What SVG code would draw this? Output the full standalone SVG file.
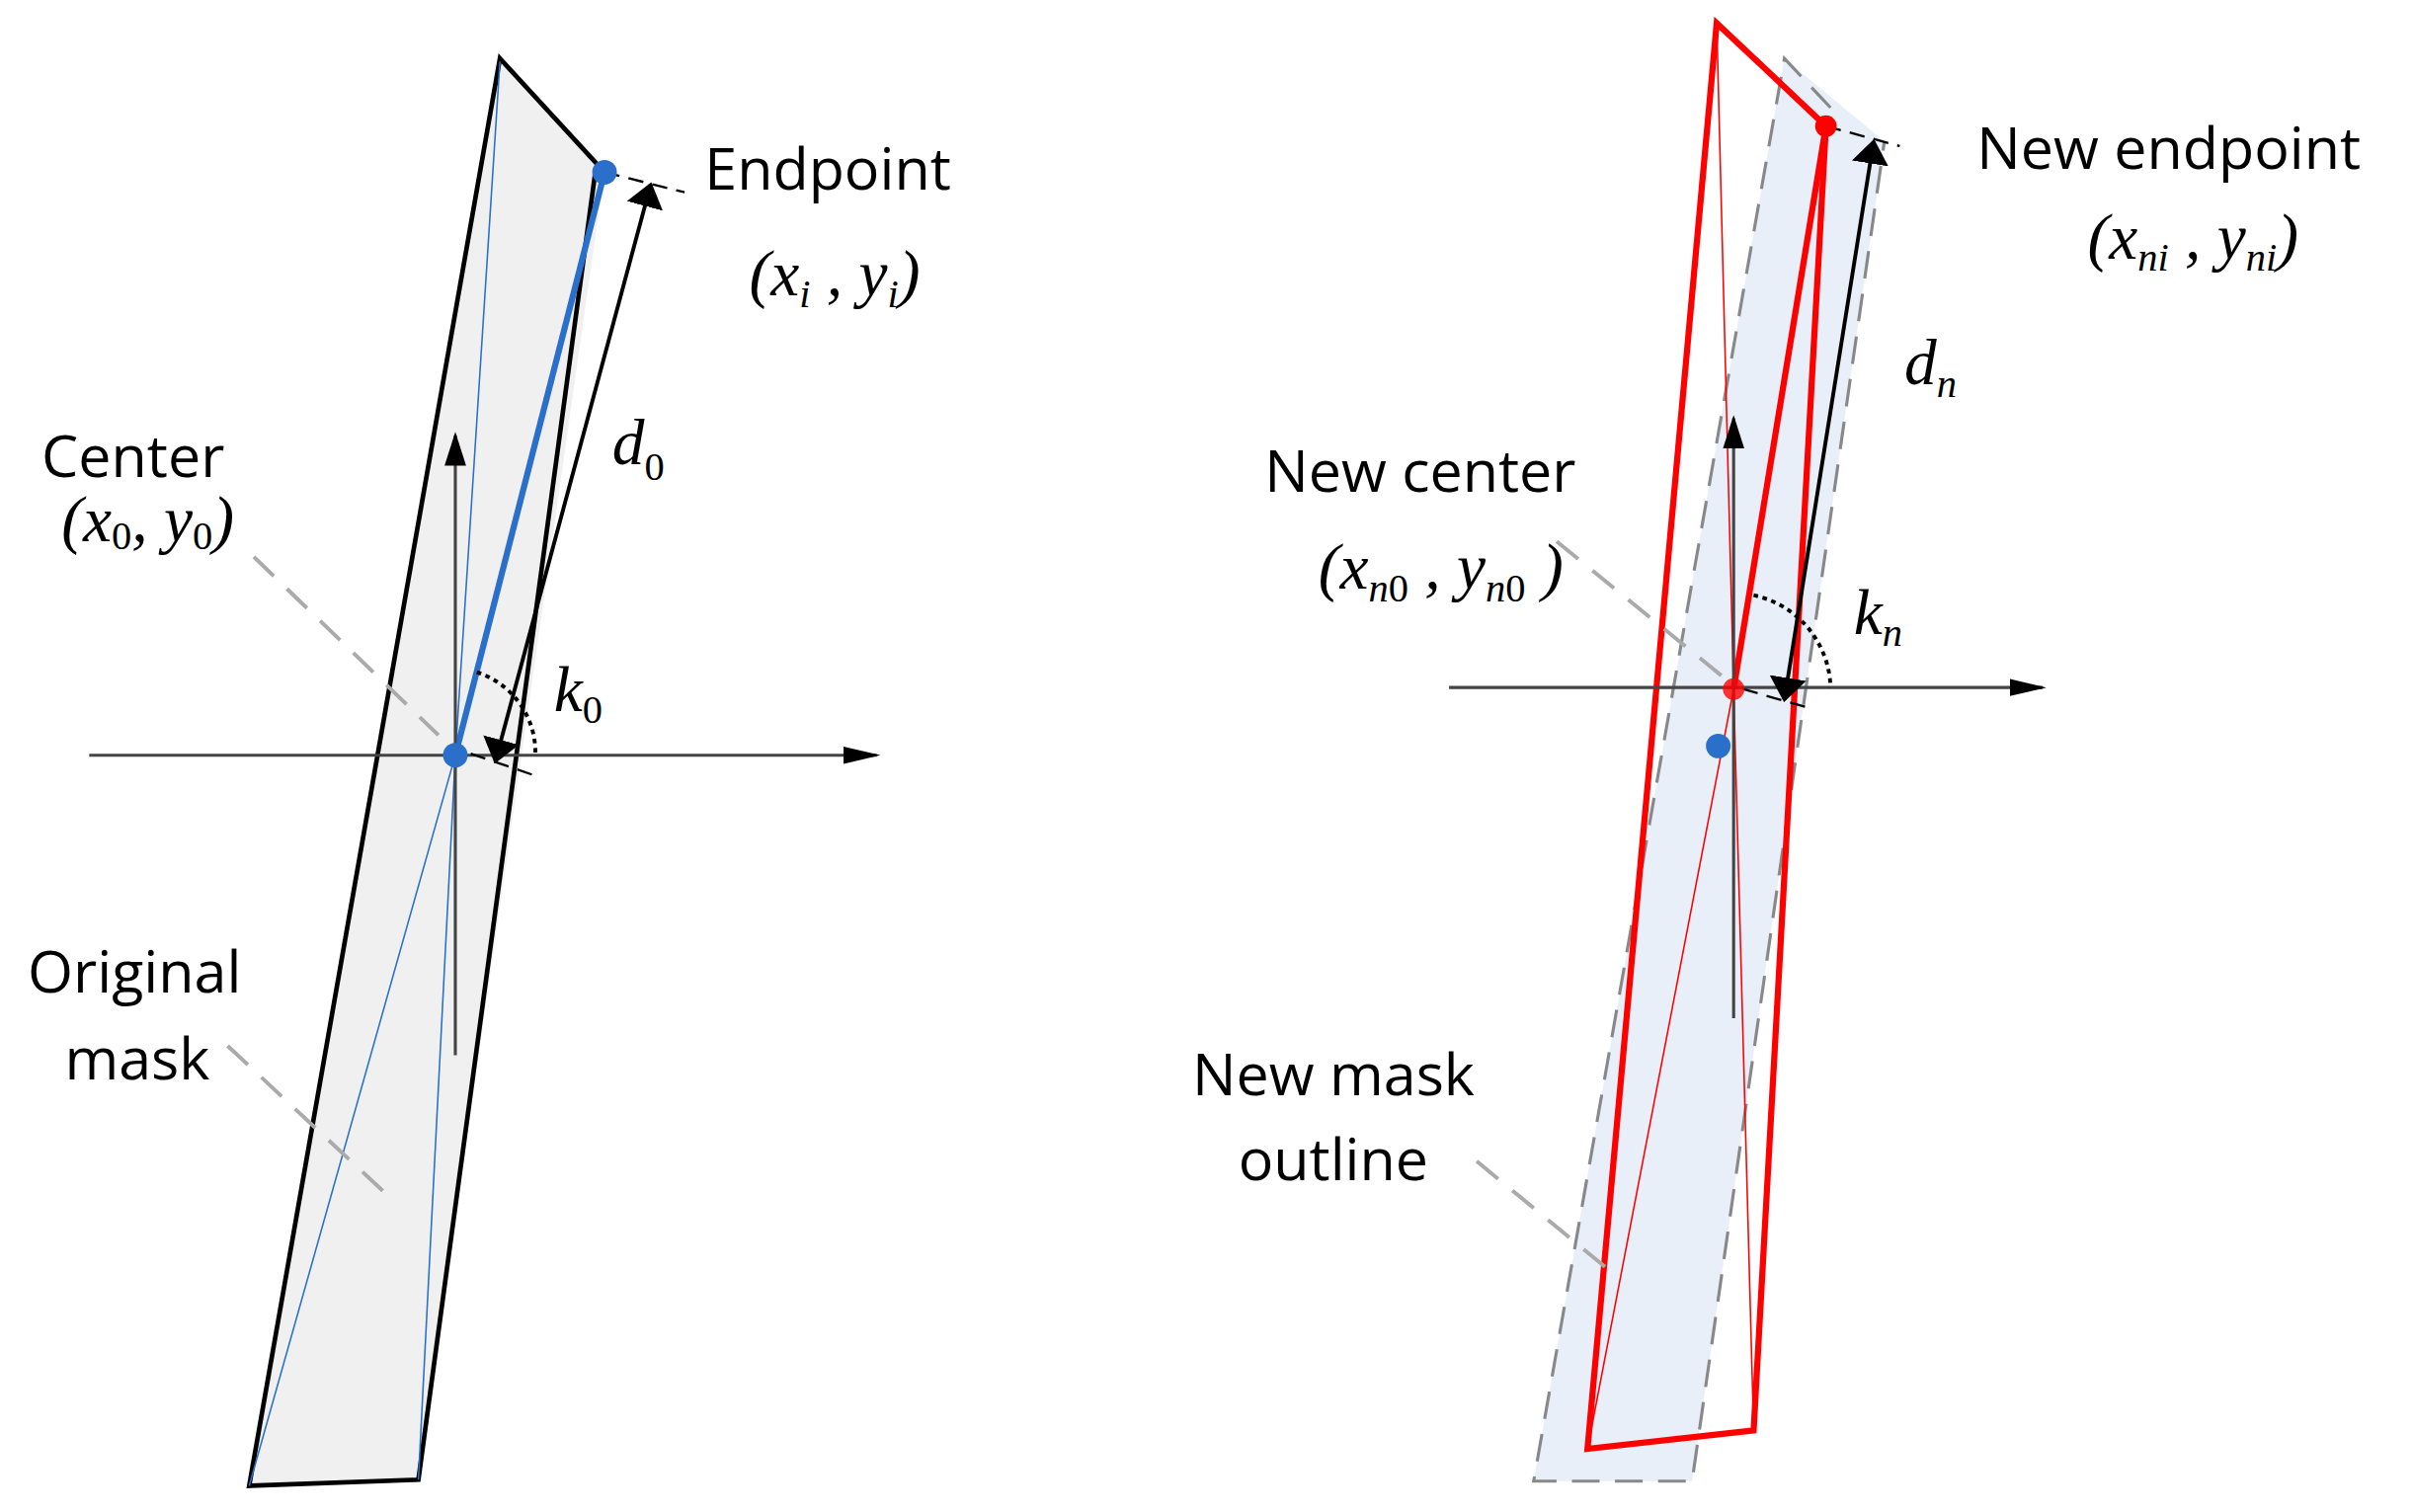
<svg xmlns="http://www.w3.org/2000/svg" width="2442" height="1531" viewBox="0 0 2442 1531">
<defs>
<marker id="ah" viewBox="0 0 10 10" refX="9" refY="5" markerWidth="22" markerHeight="14" markerUnits="userSpaceOnUse" orient="auto-start-reverse" preserveAspectRatio="none"><path d="M0,0 L10,5 L0,10 z" fill="#000"/></marker>
<marker id="ax" viewBox="0 0 10 10" refX="9" refY="5" markerWidth="24" markerHeight="14" markerUnits="userSpaceOnUse" orient="auto" preserveAspectRatio="none"><path d="M0,1 L10,5 L0,9 z" fill="#000"/></marker>
<marker id="dm" viewBox="0 0 10 10" refX="9" refY="5" markerWidth="16" markerHeight="24" markerUnits="userSpaceOnUse" orient="auto-start-reverse" preserveAspectRatio="none"><path d="M0,0 L10,5 L0,10 z" fill="#000"/></marker>
</defs>
<style>
.lab{font-family:"Open Sans","Noto Sans",sans-serif;font-size:38px;fill:#000}
.m{font-family:"Liberation Serif",serif;font-style:italic;font-size:42px;fill:#000}
.sub{font-family:"Liberation Serif",serif;font-size:26px}
.lead{stroke:#aaa;stroke-width:2.5;stroke-dasharray:18,12;fill:none}
.tick{stroke:#000;stroke-width:1.5;stroke-dasharray:10,6;fill:none}
.axis{stroke:#444;stroke-width:2;fill:none}
</style>
<g transform="scale(1.5574)">
<g id="original-mask">
<polygon points="325,38 393,112 272,962 162,966" fill="#f0f0f0" stroke="none"/>
<polyline points="393,112 325,38 162,966 272,962 387,112" fill="none" stroke="#000" stroke-width="3"/>
<polyline points="325,40 296,491 162,966" fill="none" stroke="#2a6fc9" stroke-width="1"/>
<line x1="296" y1="491" x2="272" y2="962" stroke="#2a6fc9" stroke-width="1"/>
<line x1="296" y1="491" x2="393" y2="112" stroke="#2a6fc9" stroke-width="4"/>
</g>
<g id="new-mask">
<polygon points="1160,38 1225,92 1100,963 997,963" fill="#e9eff8" stroke="none"/>
<polyline points="1190,70 1160,38 997,963 1100,963 1225,92" fill="none" stroke="#888" stroke-width="2" stroke-dasharray="18,10"/>
<polyline points="1187,82 1116,15 1032,942 1140,930 1187,82" fill="none" stroke="#f00" stroke-width="4"/>
<line x1="1127" y1="448" x2="1187" y2="82" stroke="#f00" stroke-width="4"/>
<polyline points="1116,15 1127,448 1032,942" fill="none" stroke="#f00" stroke-width="1"/>
<line x1="1127" y1="448" x2="1140" y2="930" stroke="#f00" stroke-width="1"/>
</g>
<g id="connectors">
<line class="axis" x1="58" y1="491" x2="570" y2="491" marker-end="url(#ax)"/>
<line class="axis" x1="296" y1="686" x2="296" y2="283" marker-end="url(#ah)" stroke="#000"/>
<line x1="322" y1="495" x2="423" y2="120" stroke="#000" stroke-width="2.5" marker-start="url(#dm)" marker-end="url(#dm)"/>
<line class="tick" x1="393" y1="112" x2="445" y2="125"/>
<line class="tick" x1="306" y1="490" x2="350" y2="505"/>
<path d="M310,437 A55,55 0 0 1 348,492" fill="none" stroke="#000" stroke-width="2.5" stroke-dasharray="3,3"/>
<line class="lead" x1="165" y1="362" x2="285" y2="478"/>
<line class="lead" x1="148" y1="680" x2="255" y2="780"/>
<line class="axis" x1="942" y1="447" x2="1328" y2="447" marker-end="url(#ax)" stroke="#000"/>
<line class="axis" x1="1127" y1="662" x2="1127" y2="272" marker-end="url(#ah)" stroke="#000"/>
<line x1="1160" y1="455" x2="1218" y2="92" stroke="#000" stroke-width="2.5" marker-start="url(#dm)" marker-end="url(#dm)"/>
<line class="tick" x1="1187" y1="82" x2="1235" y2="95"/>
<line class="tick" x1="1133" y1="448" x2="1175" y2="460"/>
<path d="M1140,387 A63,63 0 0 1 1190,447" fill="none" stroke="#000" stroke-width="2.5" stroke-dasharray="3,3"/>
<line class="lead" x1="1012" y1="352" x2="1120" y2="440"/>
<line class="lead" x1="960" y1="755" x2="1045" y2="825"/>
</g>
<g id="points">
<circle cx="393" cy="112" r="8" fill="#2a6fc9"/>
<circle cx="296" cy="491" r="8" fill="#2a6fc9"/>
<circle cx="1187" cy="82" r="7" fill="#f00"/>
<circle cx="1127" cy="448" r="7" fill="#f00" opacity="0.8"/>
<circle cx="1117" cy="485" r="8" fill="#2a6fc9"/>
</g>
<g id="labels">
<text class="lab" x="458" y="123">Endpoint</text>
<text class="m" x="487" y="192">(x<tspan class="sub" dy="8">i</tspan><tspan dy="-8"> , y</tspan><tspan class="sub" dy="8">i</tspan><tspan dy="-8">)</tspan></text>
<text class="m" x="398" y="302" font-size="48">d<tspan class="sub" dy="10" font-style="normal" font-size="32">0</tspan></text>
<text class="lab" x="27" y="310">Center</text>
<text class="m" x="40" y="352" font-size="27">(x<tspan class="sub" font-size="18" font-style="normal" dy="5">0</tspan><tspan dy="-5">, y</tspan><tspan class="sub" font-size="18" font-style="normal" dy="5">0</tspan><tspan dy="-5">)</tspan></text>
<text class="m" x="360" y="462">k<tspan class="sub" dy="8" font-style="normal" font-size="30">0</tspan></text>
<text class="lab" x="18" y="645">Original</text>
<text class="lab" x="42" y="702">mask</text>
<text class="lab" x="1285" y="110">New endpoint</text>
<text class="m" x="1357" y="168">(x<tspan class="sub" dy="8">ni</tspan><tspan dy="-8"> , y</tspan><tspan class="sub" dy="8">ni</tspan><tspan dy="-8">)</tspan></text>
<text class="m" x="1238" y="250">d<tspan class="sub" dy="8">n</tspan></text>
<text class="lab" x="822" y="320">New center</text>
<text class="m" x="857" y="383">(x<tspan class="sub" dy="8">n<tspan font-style="normal">0</tspan></tspan><tspan dy="-8"> , y</tspan><tspan class="sub" dy="8">n<tspan font-style="normal">0</tspan></tspan><tspan dy="-8"> )</tspan></text>
<text class="m" x="1205" y="412">k<tspan class="sub" dy="8">n</tspan></text>
<text class="lab" x="775" y="712">New mask</text>
<text class="lab" x="805" y="767">outline</text>
</g>
</g>
</svg>
